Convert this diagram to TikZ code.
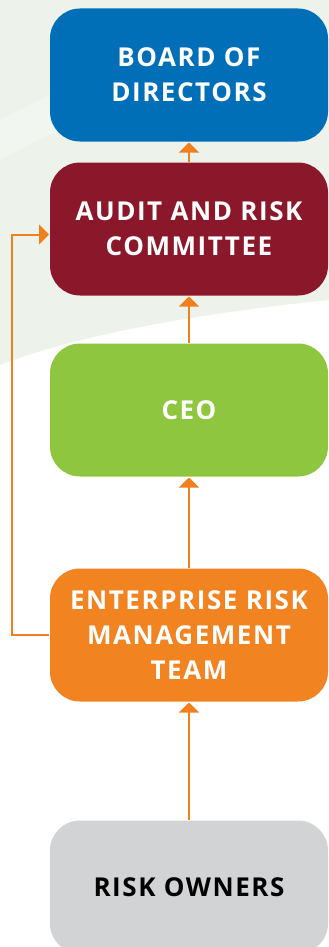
\documentclass[tikz,border=0pt]{standalone}
\usepackage{fontspec}
\setmainfont[LetterSpace=6]{Open Sans}
\usetikzlibrary{positioning,arrows.meta}
\definecolor{boardblue}{RGB}{0,111,183}
\definecolor{auditred}{RGB}{139,24,42}
\definecolor{ceogreen}{RGB}{142,198,63}
\definecolor{ermorange}{RGB}{242,131,33}
\definecolor{ownergray}{RGB}{209,211,212}
\definecolor{linkorange}{RGB}{240,128,30}
\definecolor{swoosh}{RGB}{237,243,234}
\tikzset{
    Rnode/.style = {
       shape=rectangle, rounded corners=30pt,
       align=center,
       minimum width = 278pt,
       minimum height = 133pt,
       font=\bfseries\fontsize{26}{35}\selectfont,
       text=white
    },
    Bnode/.style = {Rnode, fill = boardblue},
    Anode/.style = {Rnode, fill = auditred},
    Cnode/.style = {Rnode, fill = ceogreen},
    Enode/.style = {Rnode, fill = ermorange},
    Onode/.style = {Rnode, fill = ownergray, text = black}
}
\begin{document}
\begin{tikzpicture}[x=1pt,y=-1pt,->,>={Triangle[width=20pt,length=10pt]},line width=2pt,color=linkorange]
   \useasboundingbox (0,0) rectangle (329,947);
   % faint background swoosh
   \fill[swoosh] (0,0) -- (329,0) -- (329,300) .. controls (230,310) and (90,330) .. (0,365) -- cycle;
   \fill[white,opacity=.3] (0,120) .. controls (90,70) and (200,40) .. (329,30) -- (329,50) .. controls (200,70) and (90,110) .. (0,160) -- cycle;
   \node[Bnode] (Board) at (189,75) {BOARD OF\\DIRECTORS};
   \node[Anode] (Audit) [below = 19pt of Board] {AUDIT AND RISK\\COMMITTEE};
   \node[Cnode] (CEO) [below = 46pt of Audit] {CEO};
   \node[Enode] (ERM) [below = 90pt of CEO] {ENTERPRISE RISK\\MANAGEMENT\\TEAM};
   \node[Onode] (Owners) [below = 117pt of ERM] {RISK OWNERS};
\path
(Audit) edge (Board)
(CEO) edge (Audit)
(ERM) edge (CEO)
(Owners) edge (ERM);
\draw (ERM.west) -- ++(-37,0) |- ([yshift=-5.5pt]Audit.west);
\end{tikzpicture}
\end{document}
